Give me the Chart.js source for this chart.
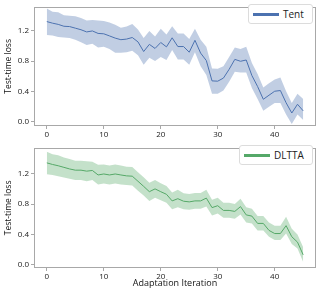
<!DOCTYPE html>
<html>
<head>
<meta charset="utf-8">
<script src="https://cdn.jsdelivr.net/npm/chart.js@4.4.0/dist/chart.umd.min.js"></script>
<style>
  body { margin: 0; background: #fff; }
  #wrap { position: relative; width: 324px; height: 289px; }
  .pane { position: absolute; left: 0; width: 324px; }
  .legenda {
    position: absolute; right: 11px; height: 18px; padding: 0 5px 0 4px;
    border: 1px solid #dcdcdc; border-radius: 3px; background: #fff;
    font: 10px "Open Sans"; color: #222; display: flex; align-items: center;
  }
  .legenda span.linha { display: inline-block; width: 26px; height: 3px; margin-right: 4px; }
</style>
</head>
<body>
<div id="wrap">
  <div class="pane" style="top:0;height:141px"><canvas id="grafico-tent"></canvas></div>
  <div class="pane" style="top:141px;height:148px"><canvas id="grafico-dltta"></canvas></div>
  <div class="legenda" style="top:4px;width:54px"><span class="linha" style="background:#4c72b0"></span>Tent</div>
  <div class="legenda" style="top:145px;width:63px"><span class="linha" style="background:#55a868"></span>DLTTA</div>
</div>
<script>
// iteracoes 0..45
var iteracoes = [];
for (var i = 0; i <= 45; i++) iteracoes.push(i);

var ticksX = [0, 10, 20, 30, 40];
var ticksY = [0.0, 0.4, 0.8, 1.2];

// Tent - media e faixa
var tentMedia = [1.324, 1.303, 1.287, 1.262, 1.258, 1.237, 1.216, 1.187, 1.200, 1.167,
    1.162, 1.134, 1.105, 1.084, 1.092, 1.113, 1.055, 0.927, 1.022, 0.968,
    1.047, 0.989, 1.109, 0.993, 0.993, 0.918, 1.076, 0.906, 0.807, 0.538,
    0.534, 0.575, 0.691, 0.823, 0.798, 0.815, 0.608, 0.463, 0.294, 0.348,
    0.401, 0.410, 0.248, 0.112, 0.228, 0.141];
var tentSuperior = [1.498, 1.456, 1.448, 1.407, 1.402, 1.394, 1.373, 1.340, 1.345, 1.340,
    1.332, 1.311, 1.282, 1.241, 1.258, 1.291, 1.220, 1.105, 1.200, 1.125,
    1.229, 1.154, 1.262, 1.167, 1.167, 1.092, 1.229, 1.084, 0.989, 0.703,
    0.699, 0.732, 0.856, 0.980, 0.960, 0.989, 0.774, 0.629, 0.451, 0.505,
    0.558, 0.583, 0.401, 0.244, 0.368, 0.298];
var tentInferior = [1.146, 1.138, 1.121, 1.113, 1.105, 1.084, 1.051, 1.014, 1.030, 0.980,
    0.989, 0.960, 0.910, 0.910, 0.918, 0.939, 0.877, 0.753, 0.844, 0.803,
    0.856, 0.815, 0.947, 0.823, 0.823, 0.753, 0.918, 0.732, 0.616, 0.368,
    0.368, 0.410, 0.525, 0.658, 0.650, 0.650, 0.443, 0.298, 0.141, 0.194,
    0.244, 0.244, 0.091, -0.033, 0.091, 0.021];

// DLTTA - media e faixa
var dlttaMedia = [1.342, 1.321, 1.304, 1.283, 1.262, 1.246, 1.246, 1.233, 1.242, 1.183,
    1.196, 1.183, 1.196, 1.183, 1.171, 1.167, 1.100, 1.033, 0.963, 1.000,
    0.963, 0.929, 0.842, 0.871, 0.838, 0.829, 0.842, 0.842, 0.879, 0.754,
    0.779, 0.717, 0.717, 0.704, 0.767, 0.658, 0.642, 0.546, 0.546, 0.454,
    0.413, 0.413, 0.517, 0.371, 0.300, 0.133];
var dlttaSuperior = [1.488, 1.454, 1.442, 1.413, 1.392, 1.371, 1.371, 1.363, 1.358, 1.317,
    1.321, 1.308, 1.321, 1.308, 1.292, 1.288, 1.217, 1.154, 1.079, 1.117,
    1.075, 1.038, 0.954, 0.988, 0.942, 0.933, 0.946, 0.946, 0.988, 0.858,
    0.883, 0.817, 0.817, 0.800, 0.871, 0.758, 0.738, 0.642, 0.642, 0.558,
    0.517, 0.517, 0.633, 0.475, 0.400, 0.233];
var dlttaInferior = [1.192, 1.183, 1.167, 1.150, 1.133, 1.117, 1.117, 1.100, 1.117, 1.058,
    1.071, 1.058, 1.071, 1.058, 1.050, 1.046, 0.975, 0.913, 0.842, 0.883,
    0.850, 0.817, 0.733, 0.758, 0.733, 0.725, 0.738, 0.738, 0.767, 0.650,
    0.675, 0.621, 0.621, 0.608, 0.663, 0.558, 0.546, 0.454, 0.454, 0.371,
    0.329, 0.329, 0.413, 0.275, 0.217, 0.038];

Chart.defaults.font.family = "'Open Sans'";
Chart.defaults.font.size = 8;
Chart.defaults.color = '#222';
Chart.defaults.animation = false;

function pontos(valores) {
    return valores.map(function (v, i) { return { x: iteracoes[i], y: v }; });
}

// moldura cinza em volta da area do grafico
var moldura = {
    id: 'moldura',
    afterDraw: function (chart) {
        var a = chart.chartArea, ctx = chart.ctx;
        ctx.save();
        ctx.strokeStyle = '#a8a8a8';
        ctx.lineWidth = 1;
        ctx.strokeRect(Math.round(a.left) + 0.5, Math.round(a.top) + 0.5,
            Math.round(a.right - a.left) - 1, Math.round(a.bottom - a.top) - 1);
        ctx.restore();
    }
};

function criarGrafico(id, media, sup, inf, cor, faixa, yMin, yMax, tituloX, alturaX) {
    return new Chart(document.getElementById(id), {
        type: 'line',
        data: {
            datasets: [{
                data: pontos(inf),
                borderWidth: 0,
                pointRadius: 0,
                fill: false
            }, {
                data: pontos(sup),
                borderWidth: 0,
                pointRadius: 0,
                backgroundColor: faixa,
                fill: '-1'
            }, {
                data: pontos(media),
                borderColor: cor,
                borderWidth: 1,
                pointRadius: 0,
                fill: false
            }]
        },
        options: {
            responsive: true,
            maintainAspectRatio: false,
            layout: { padding: { top: 1, right: 8, left: 0, bottom: 0 } },
            plugins: { legend: { display: false }, tooltip: { enabled: false } },
            scales: {
                x: {
                    type: 'linear',
                    min: -2.25,
                    max: 47.25,
                    afterBuildTicks: function (s) { s.ticks = ticksX.map(function (v) { return { value: v }; }); },
                    afterFit: function (s) { s.height = alturaX; },
                    grid: { drawOnChartArea: false, tickLength: 3, color: '#a8a8a8' },
                    border: { display: false },
                    ticks: { padding: 1, maxRotation: 0, color: '#222' },
                    title: { display: tituloX, text: 'Adaptation Iteration', font: { size: 9 }, padding: { top: 0, bottom: 0 }, color: '#111' }
                },
                y: {
                    min: yMin,
                    max: yMax,
                    afterBuildTicks: function (s) { s.ticks = ticksY.map(function (v) { return { value: v }; }); },
                    afterFit: function (s) { s.width = 34; },
                    grid: { drawOnChartArea: false, tickLength: 3, color: '#a8a8a8' },
                    border: { display: false },
                    ticks: {
                        padding: 2,
                        color: '#222',
                        callback: function (v) { return Number(v).toFixed(1); }
                    },
                    title: { display: true, text: 'Test-time loss', font: { size: 8.5 }, padding: { top: 3, bottom: 0 }, color: '#111' }
                }
            }
        },
        plugins: [moldura]
    });
}

criarGrafico('grafico-tent', tentMedia, tentSuperior, tentInferior,
    '#4c72b0', 'rgba(76,114,176,0.35)', -0.06, 1.52, false, 15);
criarGrafico('grafico-dltta', dlttaMedia, dlttaSuperior, dlttaInferior,
    '#55a868', 'rgba(85,168,104,0.35)', -0.04, 1.54, true, 21);
</script>
</body>
</html>
